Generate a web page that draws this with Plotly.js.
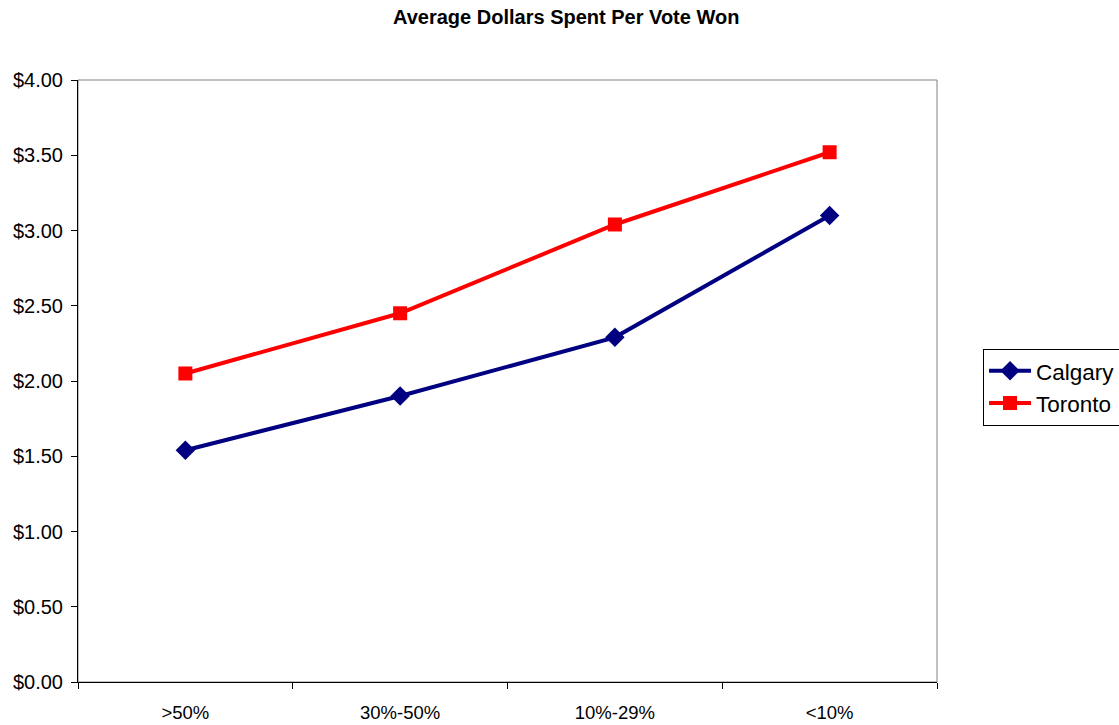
<!DOCTYPE html>
<html>
<head>
<meta charset="utf-8">
<script src="https://cdn.plot.ly/plotly-3.0.1.min.js"></script>
<style>
  html, body { margin: 0; padding: 0; background: #ffffff; }
  #chart { width: 1119px; height: 725px; }
</style>
</head>
<body>
<div id="chart"></div>
<script>
// Vote-share brackets and average campaign spending per vote won
const categories = ['>50%', '30%-50%', '10%-29%', '<10%'];
const calgary = [1.54, 1.90, 2.29, 3.10];
const toronto = [2.05, 2.45, 3.04, 3.52];
const yTicks = [0, 0.5, 1, 1.5, 2, 2.5, 3, 3.5, 4];

const traces = [
  {
    name: 'Calgary',
    x: categories,
    y: calgary,
    type: 'scatter',
    mode: 'lines+markers',
    line: { color: '#000080', width: 4 },
    marker: { symbol: 'diamond', size: 15, color: '#000080' }
  },
  {
    name: 'Toronto',
    x: categories,
    y: toronto,
    type: 'scatter',
    mode: 'lines+markers',
    line: { color: '#ff0000', width: 4 },
    marker: { symbol: 'square', size: 14, color: '#ff0000' }
  }
];

const layout = {
  width: 1119,
  height: 725,
  paper_bgcolor: '#ffffff',
  plot_bgcolor: '#ffffff',
  margin: { l: 78, r: 182, t: 80, b: 43, autoexpand: false },
  font: { family: 'Arial, "Liberation Sans", sans-serif', color: '#000000', size: 18 },
  title: {
    text: 'Average Dollars Spent Per Vote Won',
    font: { size: 20, weight: 'bold', color: '#000000' },
    x: 0.506,
    xanchor: 'center',
    y: 0.976,
    yanchor: 'middle'
  },
  xaxis: {
    type: 'category',
    range: [-0.5, 3.5],
    tickson: 'boundaries',
    ticks: 'outside',
    ticklen: 6,
    tickwidth: 1,
    tickcolor: '#000000',
    ticklabelstandoff: 14,
    showline: true,
    linecolor: '#000000',
    linewidth: 1,
    showgrid: false,
    zeroline: false,
    tickfont: { size: 18.5 },
    fixedrange: true
  },
  yaxis: {
    range: [0, 4],
    tickvals: yTicks,
    tickformat: '$.2f',
    ticks: 'outside',
    ticklen: 6,
    tickwidth: 1,
    tickcolor: '#000000',
    ticklabelstandoff: 4,
    showline: true,
    linecolor: '#000000',
    linewidth: 1,
    showgrid: false,
    zeroline: false,
    tickfont: { size: 20 },
    fixedrange: true
  },
  shapes: [
    {
      type: 'rect', xref: 'paper', yref: 'paper',
      x0: 0, x1: 1, y0: 0, y1: 1,
      line: { color: '#808080', width: 1 },
      layer: 'below'
    }
  ],
  legend: {
    xref: 'container',
    yref: 'container',
    x: 0.8785,
    xanchor: 'left',
    y: 0.466,
    yanchor: 'middle',
    bgcolor: '#ffffff',
    bordercolor: '#000000',
    borderwidth: 1,
    font: { size: 22.5, color: '#000000' },
    itemwidth: 42,
    tracegroupgap: 0
  },
  showlegend: true
};

Plotly.newPlot('chart', traces, layout, { displayModeBar: false, staticPlot: true });
</script>
</body>
</html>
